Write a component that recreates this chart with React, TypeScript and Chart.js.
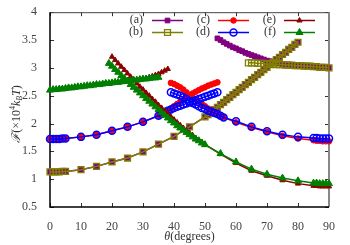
import React, { useEffect, useRef } from 'react';
import { Chart, registerables } from 'chart.js';
Chart.register(...registerables);

// ---- data ----
const xTickValues = [0, 10, 20, 30, 40, 50, 60, 70, 80, 90];
const yTickValues = [0.5, 1, 1.5, 2, 2.5, 3, 3.5, 4];
const legendLabels = ['(a)', '(b)', '(c)', '(d)', '(e)', '(f)'];

// (a)/(b) rising branch
const abRiseX = [0, 1, 2, 3, 4, 5, 10, 15, 20, 25, 30, 35, 40, 45, 50, 51, 52, 53, 54, 55, 56, 57, 58, 59, 60, 61, 62, 63, 64, 65, 66, 67, 68, 69, 70, 71, 72, 73, 74, 75, 76, 77, 78, 79, 80];
const abRiseY = [1.13, 1.13, 1.13, 1.13, 1.14, 1.14, 1.17, 1.23, 1.31, 1.38, 1.49, 1.63, 1.77, 1.94, 2.12, 2.16, 2.20, 2.25, 2.29, 2.34, 2.38, 2.43, 2.47, 2.52, 2.56, 2.61, 2.65, 2.70, 2.74, 2.79, 2.83, 2.88, 2.92, 2.97, 3.01, 3.06, 3.10, 3.15, 3.19, 3.24, 3.28, 3.33, 3.37, 3.42, 3.46];
// (a) falling branch
const aFallX = [54, 55, 56, 57, 58, 59, 60, 61, 62, 63, 64, 65, 66, 67, 68, 69, 70, 71, 72, 73, 74, 75, 76, 77, 78, 79, 80, 81, 82, 83, 84, 85, 86, 87, 88, 89, 90];
const aFallY = [3.53, 3.50, 3.46, 3.43, 3.40, 3.37, 3.35, 3.32, 3.30, 3.27, 3.25, 3.23, 3.21, 3.19, 3.17, 3.15, 3.13, 3.12, 3.10, 3.09, 3.08, 3.07, 3.06, 3.06, 3.05, 3.05, 3.04, 3.04, 3.03, 3.03, 3.02, 3.02, 3.02, 3.01, 3.01, 3.00, 3.00];
// (b) flat branch
const bFlatX = [64, 65, 66, 67, 68, 69, 70, 71, 72, 73, 74, 75, 76, 77, 78, 79, 80, 81, 82, 83, 84, 85, 86, 87, 88, 89, 90];
const bFlatY = [3.09, 3.09, 3.09, 3.08, 3.08, 3.08, 3.07, 3.07, 3.07, 3.06, 3.06, 3.06, 3.05, 3.05, 3.05, 3.04, 3.04, 3.04, 3.03, 3.03, 3.03, 3.02, 3.02, 3.01, 3.01, 3.01, 3.00];

// (c)/(d) rising branch
const cdRiseX = [0, 1, 2, 3, 4, 5, 10, 15, 20, 25, 30, 35, 36, 37, 38, 39, 40, 41, 42, 43, 44, 45, 46, 47, 48, 49, 50, 51, 52, 53, 54];
const cRiseY = [1.72, 1.72, 1.72, 1.72, 1.73, 1.73, 1.76, 1.80, 1.87, 1.94, 2.03, 2.14, 2.17, 2.20, 2.23, 2.27, 2.31, 2.35, 2.39, 2.43, 2.47, 2.51, 2.54, 2.57, 2.60, 2.63, 2.65, 2.68, 2.70, 2.72, 2.74];
const dRiseY = [1.72, 1.72, 1.72, 1.72, 1.73, 1.73, 1.76, 1.80, 1.87, 1.94, 2.03, 2.14, 2.17, 2.20, 2.23, 2.25, 2.28, 2.30, 2.32, 2.34, 2.36, 2.38, 2.40, 2.42, 2.44, 2.46, 2.48, 2.50, 2.52, 2.54, 2.56];
// (c)/(d) falling branch
const cdFallX = [39, 40, 41, 42, 43, 44, 45, 46, 47, 48, 49, 50, 51, 52, 53, 54, 55, 56, 60, 65, 70, 75, 80, 85, 86, 87, 88, 89, 90];
const cFallY = [2.73, 2.71, 2.68, 2.65, 2.61, 2.56, 2.51, 2.47, 2.43, 2.39, 2.35, 2.31, 2.27, 2.23, 2.20, 2.17, 2.14, 2.11, 2.02, 1.93, 1.85, 1.78, 1.73, 1.70, 1.69, 1.69, 1.68, 1.68, 1.68];
const dFallY = [2.56, 2.54, 2.52, 2.50, 2.47, 2.44, 2.40, 2.37, 2.34, 2.31, 2.28, 2.26, 2.23, 2.21, 2.19, 2.17, 2.14, 2.11, 2.04, 1.94, 1.86, 1.80, 1.76, 1.74, 1.74, 1.73, 1.73, 1.73, 1.73];

// (e)/(f) rising branch
const fRiseX = [0, 1, 2, 3, 4, 5, 6, 7, 8, 9, 10, 11, 12, 13, 14, 15, 16, 17, 18, 19, 20, 21, 22, 23, 24, 25, 26, 27, 28, 29, 30, 31, 32, 33, 34, 35];
const fRiseY = [2.60, 2.61, 2.61, 2.62, 2.62, 2.63, 2.64, 2.64, 2.65, 2.66, 2.66, 2.67, 2.68, 2.68, 2.69, 2.70, 2.70, 2.71, 2.72, 2.72, 2.73, 2.74, 2.74, 2.75, 2.76, 2.76, 2.77, 2.78, 2.78, 2.79, 2.80, 2.80, 2.81, 2.82, 2.82, 2.83];
const eRiseX = [0, 1, 2, 3, 4, 5, 6, 7, 8, 9, 10, 11, 12, 13, 14, 15, 16, 17, 18, 19, 20, 21, 22, 23, 24, 25, 26, 27, 28, 29, 30, 31, 32, 33, 34, 35, 36, 37, 38];
const eRiseY = [2.60, 2.61, 2.61, 2.62, 2.62, 2.63, 2.64, 2.64, 2.65, 2.66, 2.66, 2.67, 2.68, 2.68, 2.69, 2.70, 2.70, 2.71, 2.72, 2.72, 2.73, 2.74, 2.74, 2.75, 2.76, 2.76, 2.77, 2.78, 2.78, 2.79, 2.80, 2.81, 2.83, 2.85, 2.87, 2.89, 2.92, 2.95, 2.98];
// (e)/(f) falling branch
const fFallX = [19, 20, 21, 22, 23, 24, 25, 26, 27, 28, 29, 30, 31, 32, 33, 34, 35, 36, 37, 38, 39, 40, 41, 42, 43, 44, 45, 46, 47, 48, 49, 50, 55, 60, 65, 70, 75, 80, 85, 86, 87, 88, 89, 90];
const fFallY = [3.08, 3.03, 2.97, 2.92, 2.86, 2.81, 2.76, 2.70, 2.65, 2.60, 2.55, 2.50, 2.45, 2.40, 2.35, 2.30, 2.25, 2.20, 2.15, 2.10, 2.05, 2.01, 1.96, 1.92, 1.88, 1.84, 1.80, 1.76, 1.72, 1.69, 1.65, 1.62, 1.46, 1.31, 1.18, 1.09, 1.02, 0.97, 0.93, 0.93, 0.92, 0.92, 0.92, 0.92];
const eFallX = [20, 21, 22, 23, 24, 25, 26, 27, 28, 29, 30, 31, 32, 33, 34, 35, 36, 37, 38, 39, 40, 41, 42, 43, 44, 45, 46, 47, 48, 49, 50, 55, 60, 65, 70, 75, 80, 85, 86, 87, 88, 89, 90];
const eFallY = [3.20, 3.14, 3.08, 3.02, 2.96, 2.90, 2.84, 2.78, 2.72, 2.66, 2.61, 2.55, 2.50, 2.44, 2.39, 2.33, 2.28, 2.23, 2.17, 2.12, 2.07, 2.02, 1.97, 1.92, 1.88, 1.83, 1.79, 1.74, 1.70, 1.66, 1.62, 1.45, 1.29, 1.15, 1.06, 0.98, 0.92, 0.88, 0.88, 0.87, 0.87, 0.87, 0.87];

// ---- styles ----
const FONT = "'Liberation Serif', 'DejaVu Serif', serif";
const TRANSPARENT = 'rgba(0,0,0,0)';
const styles: any[] = [
  { color: '#800080', fill: '#800080', pointStyle: 'rect', radius: 3.3, pbw: 1, lw: 1.5 },
  { color: '#808000', fill: TRANSPARENT, pointStyle: 'rect', radius: 4.2, pbw: 1.3, lw: 1.5 },
  { color: '#ff0000', fill: '#ff0000', pointStyle: 'circle', radius: 2.8, pbw: 1, lw: 1.5 },
  { color: '#0000ff', fill: TRANSPARENT, pointStyle: 'circle', radius: 3.5, pbw: 1.5, lw: 1.5 },
  { color: '#8b0000', fill: '#8b0000', pointStyle: 'triangle', radius: 3, pbw: 1, lw: 1.5 },
  { color: '#008000', fill: '#008000', pointStyle: 'triangle', radius: 4, pbw: 1, lw: 1.5 },
];

function ds(xs: number[], ys: number[], s: number) {
  const st = styles[s];
  return {
    data: xs.map((x, i) => ({ x, y: ys[i] })),
    borderColor: st.color,
    backgroundColor: st.fill,
    pointBackgroundColor: st.fill,
    pointBorderColor: st.color,
    pointStyle: st.pointStyle,
    pointRadius: st.radius,
    pointBorderWidth: st.pbw,
    borderWidth: st.lw,
    tension: 0,
    fill: false,
    clip: false as any,
    order: 6 - s,
  };
}

function drawMarker(ctx: CanvasRenderingContext2D, s: number, x: number, y: number) {
  const st = styles[s];
  const r = st.radius;
  ctx.beginPath();
  if (st.pointStyle === 'rect') {
    const h = r * Math.SQRT1_2;
    ctx.rect(x - h, y - h, 2 * h, 2 * h);
  } else if (st.pointStyle === 'circle') {
    ctx.arc(x, y, r, 0, Math.PI * 2);
  } else {
    let a = 0;
    ctx.moveTo(x + Math.sin(a) * r, y - Math.cos(a) * r);
    a += (2 * Math.PI) / 3;
    ctx.lineTo(x + Math.sin(a) * r, y - Math.cos(a) * r);
    a += (2 * Math.PI) / 3;
    ctx.lineTo(x + Math.sin(a) * r, y - Math.cos(a) * r);
    ctx.closePath();
  }
  ctx.fillStyle = st.fill;
  ctx.fill();
  ctx.lineWidth = st.pbw;
  ctx.strokeStyle = st.color;
  ctx.stroke();
}

function drawRich(ctx: CanvasRenderingContext2D, segs: any[], cx: number, cy: number) {
  let total = 0;
  for (const s of segs) {
    ctx.font = s.font;
    total += ctx.measureText(s.t).width;
  }
  let x = cx - total / 2;
  ctx.textAlign = 'left';
  ctx.textBaseline = 'middle';
  for (const s of segs) {
    ctx.font = s.font;
    ctx.fillText(s.t, x, cy + (s.dy || 0));
    x += ctx.measureText(s.t).width;
  }
}

const framePlugin = {
  id: 'frame',
  beforeDatasetsDraw(chart: any) {
    const { ctx, chartArea: a, scales } = chart;
    ctx.save();
    // ticks
    ctx.strokeStyle = '#333';
    ctx.lineWidth = 1;
    const L = 4;
    for (const v of xTickValues) {
      const px = Math.round(scales.x.getPixelForValue(v)) + 0.5;
      ctx.beginPath();
      ctx.moveTo(px, a.bottom);
      ctx.lineTo(px, a.bottom - L);
      ctx.moveTo(px, a.top);
      ctx.lineTo(px, a.top + L);
      ctx.stroke();
    }
    for (const v of yTickValues) {
      const py = Math.round(scales.y.getPixelForValue(v)) + 0.5;
      ctx.beginPath();
      ctx.moveTo(a.left, py);
      ctx.lineTo(a.left + L, py);
      ctx.moveTo(a.right, py);
      ctx.lineTo(a.right - L, py);
      ctx.stroke();
    }
    // frame
    ctx.lineWidth = 1;
    ctx.strokeStyle = '#444';
    ctx.beginPath();
    ctx.moveTo(a.left, a.top + 0.5);
    ctx.lineTo(a.right, a.top + 0.5);
    ctx.stroke();
    ctx.lineWidth = 2;
    ctx.strokeStyle = '#888';
    ctx.beginPath();
    ctx.moveTo(a.right, a.top);
    ctx.lineTo(a.right, a.bottom);
    ctx.stroke();
    ctx.lineWidth = 1.5;
    ctx.strokeStyle = '#000';
    ctx.beginPath();
    ctx.moveTo(a.left, a.top);
    ctx.lineTo(a.left, a.bottom);
    ctx.lineTo(a.right, a.bottom);
    ctx.stroke();
    ctx.restore();
  },
  afterDraw(chart: any) {
    const { ctx, chartArea: a } = chart;
    ctx.save();
    // legend
    const textRight = [143, 210, 276];
    const lineStart = [152, 218, 284];
    const rows = [20, 32];
    for (let i = 0; i < 6; i++) {
      const col = Math.floor(i / 2);
      const row = i % 2;
      const y = rows[row];
      ctx.font = `12px ${FONT}`;
      ctx.fillStyle = '#333';
      ctx.textAlign = 'right';
      ctx.textBaseline = 'middle';
      ctx.fillText(legendLabels[i], textRight[col], y);
      ctx.strokeStyle = styles[i].color;
      ctx.lineWidth = 1.5;
      ctx.beginPath();
      ctx.moveTo(lineStart[col], y + 0.5);
      ctx.lineTo(lineStart[col] + 31, y + 0.5);
      ctx.stroke();
      drawMarker(ctx, i, lineStart[col] + 15.5, y + 0.5);
    }
    // x title
    ctx.fillStyle = '#333';
    drawRich(
      ctx,
      [
        { t: 'θ', font: `italic 12px ${FONT}` },
        { t: '(degrees)', font: `12px ${FONT}` },
      ],
      (a.left + a.right) / 2,
      237
    );
    // y title
    ctx.translate(17, 114);
    ctx.rotate(-Math.PI / 2);
    drawRich(
      ctx,
      [
        { t: 'ℱ', font: `italic 12px ${FONT}` },
        { t: '(×10', font: `12px ${FONT}` },
        { t: '4', font: `8px ${FONT}`, dy: -4 },
        { t: 'k', font: `italic 12px ${FONT}` },
        { t: 'B', font: `italic 8px ${FONT}`, dy: 3 },
        { t: 'T', font: `italic 12px ${FONT}` },
        { t: ')', font: `12px ${FONT}` },
      ],
      0,
      0
    );
    ctx.restore();
  },
};

export default function App() {
  const ref = useRef<HTMLCanvasElement | null>(null);
  useEffect(() => {
    document.body.style.margin = '0';
    const canvas = ref.current;
    if (!canvas) return;
    const chart = new Chart(canvas, {
      type: 'line',
      data: {
        datasets: [
          ds(abRiseX, abRiseY, 0),
          ds(aFallX, aFallY, 0),
          ds(abRiseX, abRiseY, 1),
          ds(bFlatX, bFlatY, 1),
          ds(cdRiseX, cRiseY, 2),
          ds(cdFallX, cFallY, 2),
          ds(cdRiseX, dRiseY, 3),
          ds(cdFallX, dFallY, 3),
          ds(eRiseX, eRiseY, 4),
          ds(eFallX, eFallY, 4),
          ds(fRiseX, fRiseY, 5),
          ds(fFallX, fFallY, 5),
        ] as any,
      },
      options: {
        animation: false,
        responsive: false,
        maintainAspectRatio: false,
        events: [],
        layout: { padding: { top: 12, right: 21, left: 0, bottom: 0 } },
        plugins: { legend: { display: false }, tooltip: { enabled: false }, title: { display: false } },
        scales: {
          x: {
            type: 'linear',
            min: 0,
            max: 90,
            grid: { display: false },
            border: { display: false },
            ticks: {
              stepSize: 10,
              padding: 5,
              color: '#444',
              font: { family: FONT, size: 12 },
              callback: (v: any) => `${v}`,
            },
            afterFit: (axis: any) => {
              axis.height = 38;
            },
          },
          y: {
            type: 'linear',
            min: 0.5,
            max: 4,
            grid: { display: false },
            border: { display: false },
            ticks: {
              stepSize: 0.5,
              padding: 5,
              color: '#444',
              font: { family: FONT, size: 12 },
              callback: (v: any) => `${v}`,
            },
            afterFit: (axis: any) => {
              axis.width = 50;
            },
          },
        },
      } as any,
      plugins: [framePlugin],
    });
    return () => chart.destroy();
  }, []);
  return (
    <div style={{ position: 'absolute', left: 0, top: 0, width: 350, height: 245 }}>
      <canvas ref={ref} width={350} height={245} style={{ width: 350, height: 245 }} />
    </div>
  );
}
